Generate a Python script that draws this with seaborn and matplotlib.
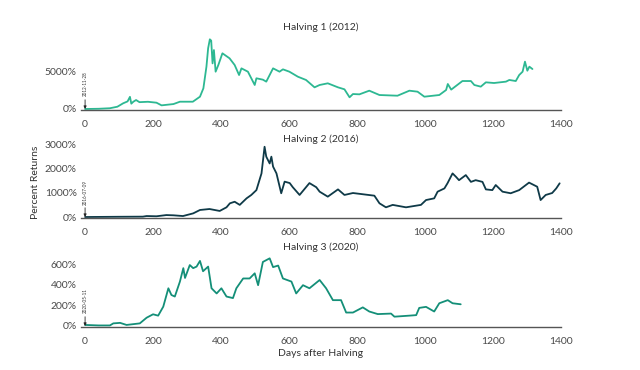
import matplotlib
matplotlib.use("Agg")
import matplotlib.pyplot as plt
import seaborn as sns
import pandas as pd

# ---------------- data ----------------
days_2012 = [0, 40, 73, 95, 112, 125, 132, 136, 142, 150, 160, 185, 210, 225, 260, 279, 317, 338, 348, 357,
             362, 367, 371, 375, 379, 384, 392, 404, 425, 440, 453, 460, 479, 499, 504, 523, 533, 553, 572, 582,
             601, 626, 650, 675, 690, 714, 744, 763, 778, 788, 807, 836, 866, 919, 954, 978, 998, 1042, 1062, 1067,
             1077, 1110, 1135, 1145, 1164, 1179, 1203, 1238, 1248, 1267, 1277, 1287, 1294, 1301, 1307, 1316]
ret_2012 = [0, 30, 100, 300, 750, 1000, 1600, 700, 960, 1180, 900, 950, 830, 480, 650, 960, 960, 1620, 2720, 5570,
            8000, 9170, 9000, 6000, 7760, 4910, 5790, 7330, 6670, 5790, 4470, 5350, 4910, 3160, 4040, 3860, 3600, 5350, 4910, 5220,
            4910, 4250, 3820, 2850, 3160, 3380, 2850, 2590, 1540, 1970, 1930, 2410, 1840, 1750, 2410, 2280, 1620, 1840, 2500, 3290,
            2550, 3680, 3680, 3160, 2940, 3510, 3420, 3600, 3820, 3680, 4470, 4910, 6230, 5040, 5570, 5260]

days_2016 = [0, 100, 170, 181, 210, 239, 260, 288, 318, 338, 366, 396, 416, 426, 440, 455, 475, 489, 504, 519,
             528, 533, 543, 548, 553, 563, 577, 587, 602, 611, 631, 660, 680, 690, 714, 744, 763, 788, 851, 866,
             885, 905, 944, 988, 1003, 1027, 1037, 1057, 1066, 1081, 1091, 1100, 1120, 1135, 1149, 1169, 1179, 1198, 1208, 1228,
             1252, 1277, 1306, 1330, 1340, 1355, 1374, 1386, 1396]
ret_2016 = [0, 10, 15, 40, 30, 80, 70, 40, 150, 290, 330, 250, 400, 565, 630, 500, 770, 910, 1110, 1800,
            2900, 2490, 2210, 2490, 2080, 1800, 980, 1460, 1400, 1230, 910, 1400, 1230, 1045, 840, 1140, 910, 990, 880, 565,
            400, 500, 400, 500, 700, 770, 1045, 1180, 1390, 1800, 1660, 1520, 1730, 1450, 1520, 1450, 1140, 1110, 1320, 1045,
            980, 1110, 1420, 1250, 700, 910, 990, 1180, 1390]

days_2020 = [0, 40, 73, 83, 103, 122, 161, 181, 200, 215, 230, 245, 254, 264, 279, 289, 294, 308, 318, 328,
             338, 347, 362, 372, 387, 401, 416, 435, 445, 465, 484, 499, 509, 523, 543, 553, 568, 582, 607, 621,
             641, 660, 690, 709, 729, 753, 768, 788, 817, 836, 861, 900, 910, 954, 974, 983, 1003, 1027, 1042, 1067,
             1081, 1105]
ret_2020 = [10, 5, 5, 25, 30, 10, 25, 80, 113, 100, 187, 365, 300, 285, 430, 560, 465, 590, 560, 575,
            630, 530, 575, 365, 315, 365, 285, 270, 365, 460, 460, 510, 395, 620, 655, 570, 585, 460, 430, 315,
            395, 365, 445, 365, 250, 250, 130, 130, 180, 140, 115, 120, 90, 100, 105, 175, 185, 140, 220, 250,
            220, 210]

titles = ["Halving 1 (2012)", "Halving 2 (2016)", "Halving 3 (2020)"]
halving_dates = ["2012-11-28", "2016-07-09", "2020-05-11"]
x_ticks = [0, 200, 400, 600, 800, 1000, 1200, 1400]
y_ticks_2012 = [0, 5000]
y_ticks_2016 = [0, 1000, 2000, 3000]
y_ticks_2020 = [0, 200, 400, 600]

# ---------------- style ----------------
sns.set_theme(style="white")
plt.rcParams["font.family"] = ["Lato", "DejaVu Sans"]

colors = ["#2db892", "#0f3a48", "#148f78"]
text_col = "#333333"
tick_col = "#4a4a4a"

fig = plt.figure(figsize=(6.4, 3.7), dpi=100)

W, H = 640.0, 370.0
left_px, right_px = 81, 561
# (top_px, bottom_px, ylim)
panels = [
    (35, 110, (-132, 9738), days_2012, ret_2012, y_ticks_2012, 27),
    (144, 218, (-41, 3013), days_2016, ret_2016, y_ticks_2016, 139),
    (254, 327, (-10, 697), days_2020, ret_2020, y_ticks_2020, 247),
]

for i, (top, bot, ylim, dx, dy, yt, title_y) in enumerate(panels):
    ax = fig.add_axes([left_px / W, 1 - bot / H, (right_px - left_px) / W, (bot - top) / H])
    df = pd.DataFrame({"day": dx, "ret": dy})
    sns.lineplot(data=df, x="day", y="ret", ax=ax, color=colors[i], linewidth=1.3)
    ax.set_xlim(-12, 1400)
    ax.set_ylim(*ylim)
    ax.set_xticks(x_ticks)
    ax.set_xticklabels([str(t) for t in x_ticks])
    ax.set_yticks(yt)
    ax.set_yticklabels([f"{t}%" for t in yt])
    ax.tick_params(axis="both", length=0, labelsize=7.5, colors=tick_col)
    ax.tick_params(axis="x", pad=7)
    ax.tick_params(axis="y", pad=3)
    ax.set_xlabel("")
    ax.set_ylabel("")
    for s in ["top", "right", "left"]:
        ax.spines[s].set_visible(False)
    ax.spines["bottom"].set_color("#555555")
    ax.spines["bottom"].set_linewidth(1.0)
    ax.patch.set_alpha(0)
    ax.annotate(halving_dates[i], xy=(0, 0), xytext=(0, 9), textcoords="offset points",
                rotation=90, ha="center", va="bottom", fontsize=3.3, color=text_col,
                arrowprops=dict(arrowstyle="-|>", color="#222222", lw=0.6,
                                mutation_scale=4, shrinkA=0, shrinkB=0))
    fig.text(321 / W, 1 - title_y / H, titles[i], ha="center", va="center",
             fontsize=7.5, color=text_col)

fig.text(35 / W, 1 - 182 / H, "Percent Returns", rotation=90, ha="center", va="center",
         fontsize=7.5, color=text_col)
fig.text(321 / W, 1 - 353 / H, "Days after Halving", ha="center", va="center",
         fontsize=7.5, color=text_col)

fig.savefig("out.png", dpi=100, facecolor="white")
